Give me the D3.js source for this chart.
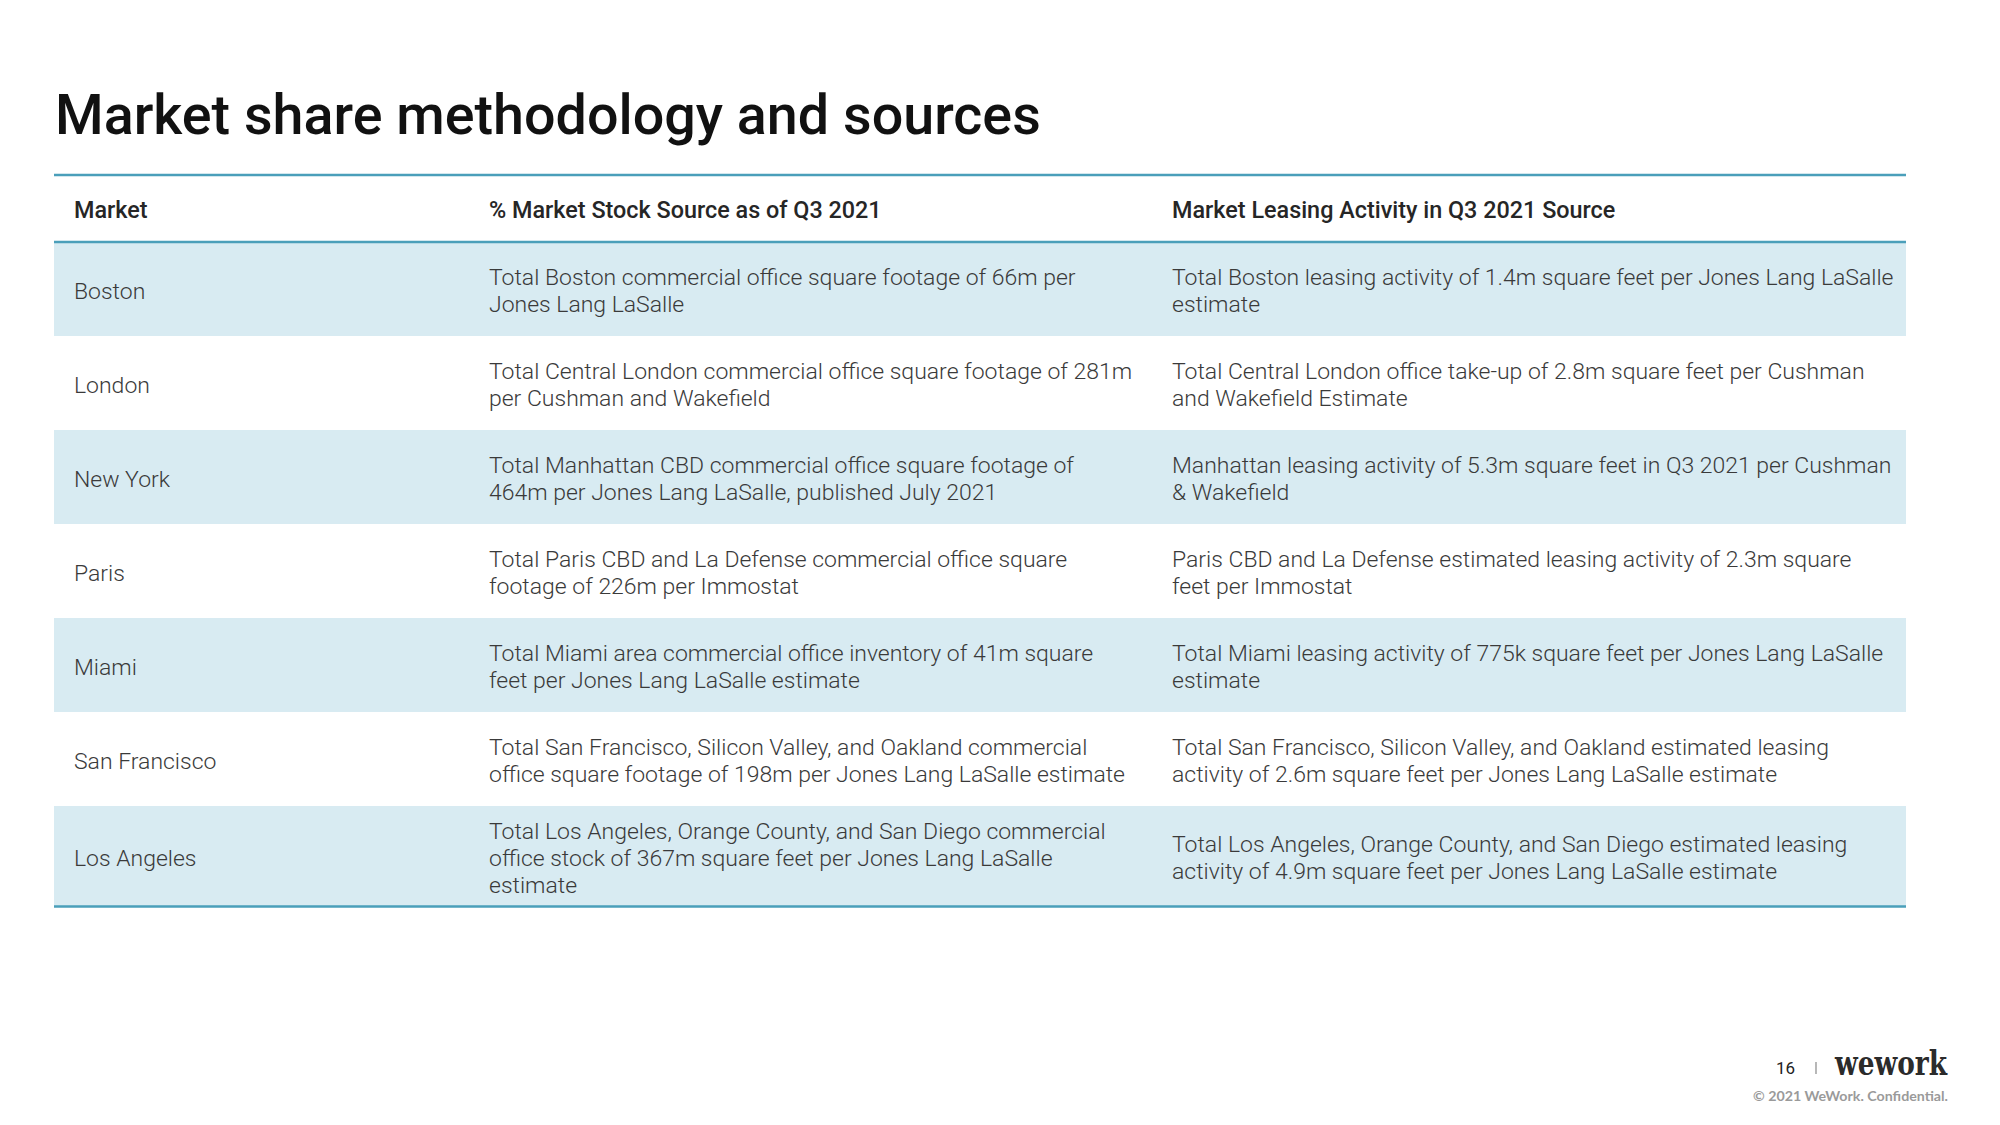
<!DOCTYPE html>
<html><head><meta charset="utf-8">
<script src="https://cdn.jsdelivr.net/npm/d3@7"></script>
<style>body{margin:0;background:#fff}svg{display:block}</style>
</head><body>
<script>
const title = "Market share methodology and sources";
const headers = ["Market", "% Market Stock Source as of Q3 2021", "Market Leasing Activity in Q3 2021 Source"];
const markets = ["Boston", "London", "New York", "Paris", "Miami", "San Francisco", "Los Angeles"];
const stockSources = [
  "Total Boston commercial office square footage of 66m per\nJones Lang LaSalle",
  "Total Central London commercial office square footage of 281m\nper Cushman and Wakefield",
  "Total Manhattan CBD commercial office square footage of\n464m per Jones Lang LaSalle, published July 2021",
  "Total Paris CBD and La Defense commercial office square\nfootage of 226m per Immostat",
  "Total Miami area commercial office inventory of 41m square\nfeet per Jones Lang LaSalle estimate",
  "Total San Francisco, Silicon Valley, and Oakland commercial\noffice square footage of 198m per Jones Lang LaSalle estimate",
  "Total Los Angeles, Orange County, and San Diego commercial\noffice stock of 367m square feet per Jones Lang LaSalle\nestimate"
];
const leasingSources = [
  "Total Boston leasing activity of 1.4m square feet per Jones Lang LaSalle\nestimate",
  "Total Central London office take-up of 2.8m square feet per Cushman\nand Wakefield Estimate",
  "Manhattan leasing activity of 5.3m square feet in Q3 2021 per Cushman\n& Wakefield",
  "Paris CBD and La Defense estimated leasing activity of 2.3m square\nfeet per Immostat",
  "Total Miami leasing activity of 775k square feet per Jones Lang LaSalle\nestimate",
  "Total San Francisco, Silicon Valley, and Oakland estimated leasing\nactivity of 2.6m square feet per Jones Lang LaSalle estimate",
  "Total Los Angeles, Orange County, and San Diego estimated leasing\nactivity of 4.9m square feet per Jones Lang LaSalle estimate"
];
const pageNumber = "16";
const brand = "wework";
const footnote = "\u00A9 2021 WeWork. Confidential.";

const W = 2000, H = 1125;
const svg = d3.select("body").append("svg").attr("width", W).attr("height", H)
  .style("font-family", "Roboto, 'Noto Sans', sans-serif");

const lineColor = "#4a9fba", band = "#d8ebf2", textColor = "#3a3a3a";
const tableLeft = 54, tableRight = 1906;
const colX = d3.scaleOrdinal().domain([0, 1, 2]).range([74, 489, 1172]);

function measure(txt, size, weight, family) {
  const t = svg.append("text").attr("font-size", size).attr("font-weight", weight)
    .style("font-family", family || null).text(txt);
  const w = t.node().getComputedTextLength(); t.remove(); return w;
}
const bodyFs = 20 * 587 / measure(stockSources[0].split("\n")[0], 20, 300);
const headFs = 20 * 393 / measure(headers[1], 20, 500);
const titleFs = 56 * 986 / measure(title, 56, 500);
const lineH = 26.8;

// Title
svg.append("text").attr("x", 55).attr("y", 134).attr("font-size", titleFs).attr("font-weight", 500)
  .attr("fill", "#111").text(title);

// Rows layout
const rows = markets.map((m, i) => ({
  market: m, stock: stockSources[i].split("\n"), leasing: leasingSources[i].split("\n")
}));
const headerTop = 175, bodyTop = 242, baseRow = 94;
const heights = rows.map(r => Math.max(baseRow, Math.max(r.stock.length, r.leasing.length) * lineH + 20));
const tops = [bodyTop, ...d3.cumsum(heights).map(v => bodyTop + v)];
const y = d3.scaleOrdinal().domain(markets).range(tops.slice(0, markets.length));

const g = svg.append("g");
g.selectAll("rect.band").data(rows.filter((r, i) => i % 2 === 0)).join("rect")
  .attr("class", "band").attr("x", tableLeft).attr("width", tableRight - tableLeft)
  .attr("y", d => y(d.market)).attr("height", d => heights[markets.indexOf(d.market)])
  .attr("fill", band);

// Lines
const bottom = tops[tops.length - 1];
[headerTop, bodyTop, bottom].forEach(yy => {
  svg.append("line").attr("x1", tableLeft).attr("x2", tableRight).attr("y1", yy).attr("y2", yy)
    .attr("stroke", lineColor).attr("stroke-width", 2.5);
});

// Header
svg.selectAll("text.head").data(headers).join("text").attr("class", "head")
  .attr("x", (d, i) => colX(i)).attr("y", (headerTop + bodyTop) / 2 + 0.4 * headFs)
  .attr("font-size", headFs).attr("font-weight", 500).attr("fill", "#262626").text(d => d);

// Cells
function cell(sel, lines, x, top, h) {
  const n = lines.length;
  const cy = top + h / 2;
  lines.forEach((ln, k) => {
    sel.append("text").attr("x", x)
      .attr("y", cy + (k - (n - 1) / 2) * lineH + 0.42 * bodyFs)
      .attr("font-size", bodyFs).attr("font-weight", 300).attr("fill", textColor).text(ln);
  });
}
const rg = svg.selectAll("g.row").data(rows).join("g").attr("class", "row");
rg.each(function (d, i) {
  const s = d3.select(this);
  const top = y(d.market), h = heights[i];
  cell(s, [d.market], colX(0), top, h);
  cell(s, d.stock, colX(1), top, h);
  cell(s, d.leasing, colX(2), top, h);
});

// Footer
svg.append("text").attr("x", 1776).attr("y", 1074).attr("font-size", 17).attr("fill", "#222")
  .attr("font-weight", 400).text(pageNumber);
svg.append("line").attr("x1", 1816).attr("x2", 1816).attr("y1", 1062).attr("y2", 1074)
  .attr("stroke", "#888").attr("stroke-width", 1.2);
svg.append("text").attr("x", 1835).attr("y", 1075).attr("font-size", 33).attr("font-weight", 700)
  .style("font-family", "'DejaVu Serif', 'Liberation Serif', serif").attr("fill", "#2b2b2b")
  .attr("textLength", 112).attr("lengthAdjust", "spacingAndGlyphs").text(brand);
svg.append("text").attr("x", 1948).attr("y", 1101).attr("text-anchor", "end").attr("font-size", 13.5)
  .attr("font-weight", 700).style("font-family", "Lato, 'Open Sans', sans-serif").attr("fill", "#9a9a9a")
  .attr("textLength", 195).attr("lengthAdjust", "spacingAndGlyphs").text(footnote);
</script>
</body></html>
